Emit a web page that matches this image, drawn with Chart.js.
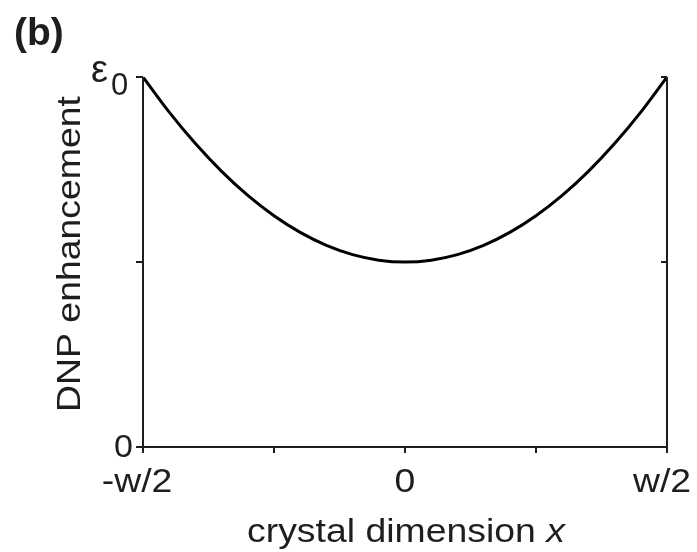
<!DOCTYPE html>
<html>
<head>
<meta charset="utf-8">
<script src="https://cdn.jsdelivr.net/npm/chart.js@4"></script>
<style>
  html, body { margin: 0; padding: 0; background: #fff; }
  #wrap { width: 697px; height: 552px; position: relative; }
</style>
</head>
<body>
<div id="wrap"><canvas id="graph-dnp"></canvas></div>
<script>
// DATEN
const positions = [-1, -0.9, -0.8, -0.7, -0.6, -0.5, -0.4, -0.3, -0.2, -0.1, 0, 0.1, 0.2, 0.3, 0.4, 0.5, 0.6, 0.7, 0.8, 0.9, 1];
const enhancement = [1, 0.905, 0.82, 0.745, 0.68, 0.625, 0.58, 0.545, 0.52, 0.505, 0.5, 0.505, 0.52, 0.545, 0.58, 0.625, 0.68, 0.745, 0.82, 0.905, 1];
const xTicks = [-1, -0.5, 0, 0.5, 1];
const xTickLabels = ['-w/2', '', '0', '', 'w/2'];
const yTicks = [0, 0.5, 1];
const yTickLabels = ['0', '', 'ε'];

const ink = '#1e1e1e';
const font = '"Liberation Sans", Arial, sans-serif';

// Text etwas breiter zeichnen (wie im Original)
function wideText(ctx, txt, x, y, align) {
    const sx = 1.1;
    const w = ctx.measureText(txt).width * sx;
    let left = x;
    if (align === 'center') left = x - w / 2;
    if (align === 'right') left = x - w;
    ctx.save();
    ctx.textAlign = 'left';
    ctx.translate(left, y);
    ctx.scale(sx, 1);
    ctx.fillText(txt, 0, 0);
    ctx.restore();
    return w;
}

// Achsen, Ticks und Beschriftungen selbst zeichnen
const axesPlugin = {
    id: 'axesPlugin',
    afterDatasetsDraw(chart) {
        const ctx = chart.ctx;
        const xs = chart.scales.x;
        const ys = chart.scales.y;
        const a = chart.chartArea;
        ctx.save();
        ctx.strokeStyle = ink;
        ctx.fillStyle = ink;
        ctx.lineWidth = 2;
        ctx.textBaseline = 'alphabetic';
        ctx.beginPath();
        ctx.moveTo(a.left, a.top);
        ctx.lineTo(a.left, a.bottom);
        ctx.lineTo(a.right, a.bottom);
        ctx.lineTo(a.right, a.top);
        ctx.stroke();

        // x ticks (nach unten)
        ctx.font = '34px ' + font;
        xTicks.forEach(function (v, i) {
            const px = xs.getPixelForValue(v);
            ctx.beginPath();
            ctx.moveTo(px, a.bottom);
            ctx.lineTo(px, a.bottom + 6);
            ctx.stroke();
            let tx = px;
            if (i === 0) tx = px - 6;
            if (i === xTicks.length - 1) tx = px - 5;
            wideText(ctx, xTickLabels[i], tx, a.bottom + 45, 'center');
        });

        // y ticks links (nach außen), rechts (nach innen)
        yTicks.forEach(function (v, i) {
            const py = ys.getPixelForValue(v);
            ctx.beginPath();
            ctx.moveTo(a.left - 7, py);
            ctx.lineTo(a.left, py);
            ctx.moveTo(a.right - 6, py);
            ctx.lineTo(a.right, py);
            ctx.stroke();
        });
        const p0 = ys.getPixelForValue(0);
        ctx.font = '31px ' + font;
        wideText(ctx, yTickLabels[0], a.left - 10, p0 + 10, 'right');

        // ε0 oben
        const pTop = ys.getPixelForValue(1);
        ctx.font = '38px ' + font;
        ctx.textAlign = 'left';
        ctx.fillText('ε', a.left - 52, pTop + 5);
        ctx.font = '31px ' + font;
        ctx.fillText('0', a.left - 32, pTop + 18);

        // Achsentitel
        ctx.font = '34px ' + font;
        const t1 = 'crystal dimension ';
        const w1 = ctx.measureText(t1).width * 1.1;
        ctx.font = 'italic 34px ' + font;
        const w2 = ctx.measureText('x').width * 1.1;
        const startX = 406 - (w1 + w2) / 2;
        ctx.font = '34px ' + font;
        wideText(ctx, t1, startX, 542, 'left');
        ctx.font = 'italic 34px ' + font;
        wideText(ctx, 'x', startX + w1, 542, 'left');

        ctx.save();
        ctx.translate(80, 254);
        ctx.rotate(-Math.PI / 2);
        ctx.font = '34px ' + font;
        wideText(ctx, 'DNP enhancement', 0, 0, 'center');
        ctx.restore();

        // Panel-Label
        ctx.font = 'bold 39px ' + font;
        ctx.textAlign = 'left';
        ctx.fillText('(b)', 14, 45);
        ctx.restore();
    }
};

const dnp = document.getElementById('graph-dnp');
new Chart(dnp, {
    type: 'line',
    data: {
        labels: positions,
        datasets: [{
            data: positions.map(function (p, i) { return { x: p, y: enhancement[i] }; }),
            borderColor: '#000',
            borderWidth: 3,
            pointRadius: 0,
            cubicInterpolationMode: 'monotone',
            fill: false
        }]
    },
    options: {
        responsive: true,
        maintainAspectRatio: false,
        animation: false,
        layout: {
            padding: { left: 143, top: 77, right: 30, bottom: 105 }
        },
        plugins: {
            legend: { display: false },
            tooltip: { enabled: false }
        },
        scales: {
            x: { type: 'linear', min: -1, max: 1, display: false },
            y: { min: 0, max: 1, display: false }
        }
    },
    plugins: [axesPlugin]
});
</script>
</body>
</html>
